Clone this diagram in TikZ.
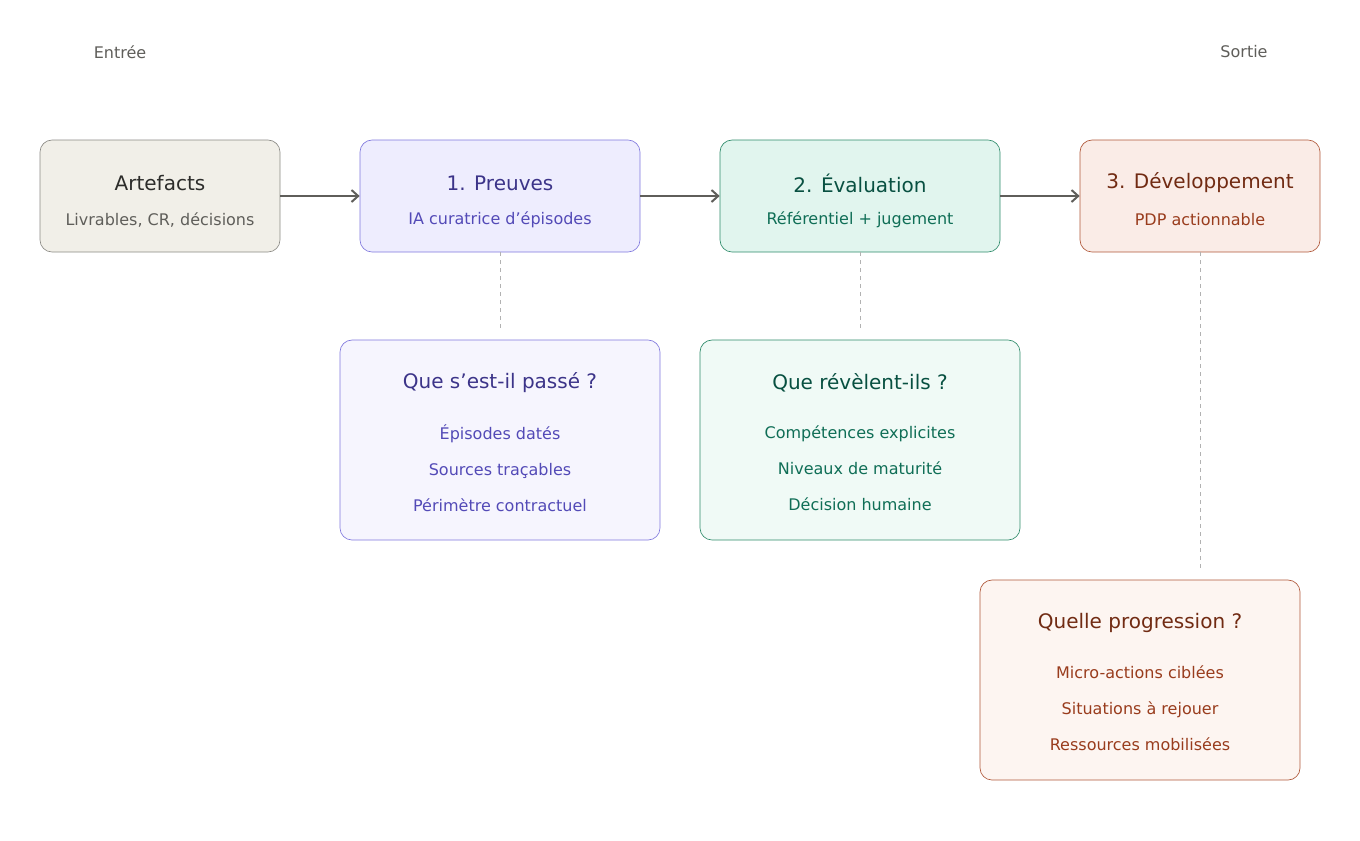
\documentclass[tikz,border=0pt]{standalone}
\usepackage{fontspec}
\setmainfont{DejaVu Sans}
\usetikzlibrary{arrows.meta}
\usetikzlibrary{positioning}
\definecolor{grayfill}{HTML}{F1EFE8}\definecolor{grayline}{HTML}{8A8984}
\definecolor{graytitle}{HTML}{2C2C2A}\definecolor{graytext}{HTML}{5F5E5A}
\definecolor{purpfill}{HTML}{EEEDFE}\definecolor{purplow}{HTML}{F6F5FE}\definecolor{purpline}{HTML}{7F77DD}
\definecolor{purptitle}{HTML}{3C3489}\definecolor{purptext}{HTML}{534AB7}
\definecolor{greenfill}{HTML}{E1F5EE}\definecolor{greenlow}{HTML}{F0FAF6}\definecolor{greenline}{HTML}{2E8B6A}
\definecolor{greentitle}{HTML}{085041}\definecolor{greentext}{HTML}{0F6E56}
\definecolor{orfill}{HTML}{FAECE7}\definecolor{orlow}{HTML}{FDF5F1}\definecolor{orline}{HTML}{B0583A}
\definecolor{ortitle}{HTML}{712B13}\definecolor{ortext}{HTML}{993C1D}
\tikzset{
	stage/.style={draw, rounded corners=9pt, line width=0.5pt, minimum width=180pt, minimum height=84pt},
	detail/.style={draw, rounded corners=9pt, line width=0.5pt, minimum width=240pt, minimum height=150pt},
	titletext/.style={font=\fontsize{15}{18}\selectfont},
	subtext/.style={font=\fontsize{12}{15}\selectfont},
	listtext/.style={font=\fontsize{12}{27}\selectfont, align=center},
	flow/.style={-{Straight Barb[length=5pt,width=9pt]}, line width=1.5pt, draw=graytext},
	guide/.style={dashed, draw=black!30, line width=0.75pt, dash pattern=on 3pt off 3pt}
}
\begin{document}
\begin{tikzpicture}[x=0.75pt,y=-0.75pt]
	\useasboundingbox (0,0) rectangle (1360,840);
	\node[subtext, text=graytext] (entree) at (120,52) {Entrée};
	\node[subtext, text=graytext] (sortie) at (1244,52) {Sortie};
	% stages
	\node[stage, fill=grayfill, draw=grayline] (artefacts) at (160,196) {};
	\node[stage, fill=purpfill, draw=purpline, minimum width=210pt] (preuves) at (500,196) {};
	\node[stage, fill=greenfill, draw=greenline, minimum width=210pt] (evaluation) at (860,196) {};
	\node[stage, fill=orfill, draw=orline] (developpement) at (1200,196) {};
	\node[titletext, text=graytitle] (artefactsT) at (160,183) {Artefacts};
	\node[subtext, text=graytext] (artefactsS) at (160,220) {Livrables, CR, décisions};
	\node[titletext, text=purptitle] (preuvesT) at (500,183) {1. Preuves};
	\node[subtext, text=purptext] (preuvesS) at (500,220) {IA curatrice d'épisodes};
	\node[titletext, text=greentitle] (evaluationT) at (860,183) {2. Évaluation};
	\node[subtext, text=greentext] (evaluationS) at (860,220) {Référentiel + jugement};
	\node[titletext, text=ortitle] (developpementT) at (1200,183) {3. Développement};
	\node[subtext, text=ortext] (developpementS) at (1200,220) {PDP actionnable};
	\draw[flow] (artefacts) -- (preuves);
	\draw[flow] (preuves) -- (evaluation);
	\draw[flow] (evaluation) -- (developpement);
	% details
	\node[detail, fill=purplow, draw=purpline] (passe) at (500,440) {};
	\node[detail, fill=greenlow, draw=greenline] (revelent) at (860,440) {};
	\node[detail, fill=orlow, draw=orline] (progression) at (1140,680) {};
	\node[titletext, text=purptitle] (passeT) at (500,383) {Que s'est-il passé ?};
	\node[listtext, text=purptext] (passeL) at (500,468) {Épisodes datés\\Sources traçables\\Périmètre contractuel};
	\node[titletext, text=greentitle] (revelentT) at (860,383) {Que révèlent-ils ?};
	\node[listtext, text=greentext] (revelentL) at (860,468) {Compétences explicites\\Niveaux de maturité\\Décision humaine};
	\node[titletext, text=ortitle] (progressionT) at (1140,623) {Quelle progression ?};
	\node[listtext, text=ortext] (progressionL) at (1140,708) {Micro-actions ciblées\\Situations à rejouer\\Ressources mobilisées};
	\coordinate (passeTop) at (500,330);
	\coordinate (revelentTop) at (860,330);
	\coordinate (progressionTop) at (1200,570);
	\draw[guide] (preuves.south) -- (passeTop);
	\draw[guide] (evaluation.south) -- (revelentTop);
	\draw[guide] (developpement.south) -- (progressionTop);
\end{tikzpicture}
\end{document}
